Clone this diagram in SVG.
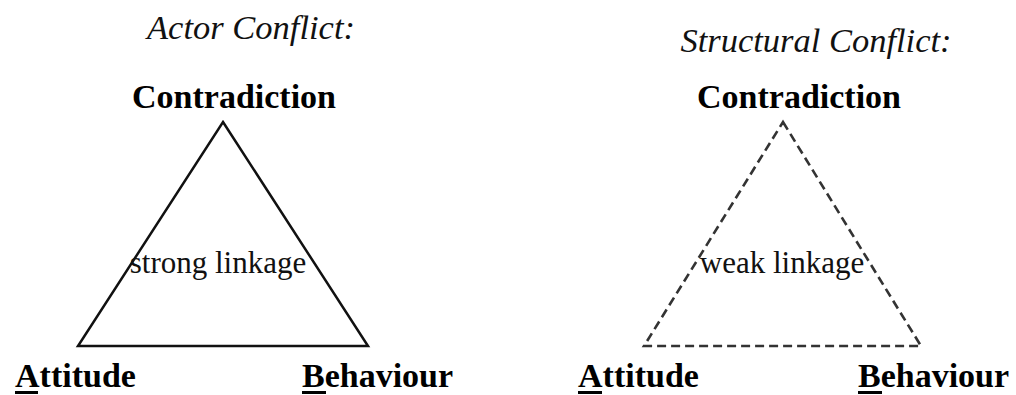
<svg xmlns="http://www.w3.org/2000/svg" width="1016" height="395" viewBox="0 0 1016 395">
<style>
.title{font-family:"Liberation Serif","Times New Roman",serif;font-style:italic;font-size:34.5px;fill:#111;text-anchor:middle}
.lbl{font-family:"Liberation Serif","Times New Roman",serif;font-weight:bold;font-size:34px;fill:#000}
.mid{text-anchor:middle}
.link{font-family:"Liberation Serif","Times New Roman",serif;font-size:31px;fill:#111;text-anchor:middle}
.solid{fill:none;stroke:#111;stroke-width:2.5;stroke-linejoin:miter}
.dash{fill:none;stroke:#333;stroke-width:2.6;stroke-dasharray:9 5}
.ul{fill:#000}
</style>
<rect width="1016" height="395" fill="#fff"/>
<g id="title-actor"><text class="title" x="251" y="39">Actor Conflict:</text></g>
<g id="title-structural"><text class="title" x="816" y="52">Structural Conflict:</text></g>
<g id="connectors">
<polygon id="tri-actor" class="solid" points="223,122 368,346 78,346"/>
<polygon id="tri-structural" class="dash" points="783,122 921,346 644,346"/>
</g>
<g id="node-contradiction-left"><text class="lbl mid" x="234" y="108">Contradiction</text></g>
<g id="node-attitude-left"><text class="lbl" x="15" y="387">Attitude</text><rect class="ul" x="15" y="391" width="23" height="3"/></g>
<g id="node-behaviour-left"><text class="lbl" x="302" y="387">Behaviour</text><rect class="ul" x="302" y="391" width="24" height="3"/></g>
<g id="label-strong"><text class="link" x="218" y="273">strong linkage</text></g>
<g id="node-contradiction-right"><text class="lbl mid" x="799" y="108">Contradiction</text></g>
<g id="node-attitude-right"><text class="lbl" x="578" y="387">Attitude</text><rect class="ul" x="578" y="391" width="24" height="3"/></g>
<g id="node-behaviour-right"><text class="lbl" x="858" y="387">Behaviour</text><rect class="ul" x="858" y="391" width="24" height="3"/></g>
<g id="label-weak"><text class="link" x="782" y="273">weak linkage</text></g>
</svg>
